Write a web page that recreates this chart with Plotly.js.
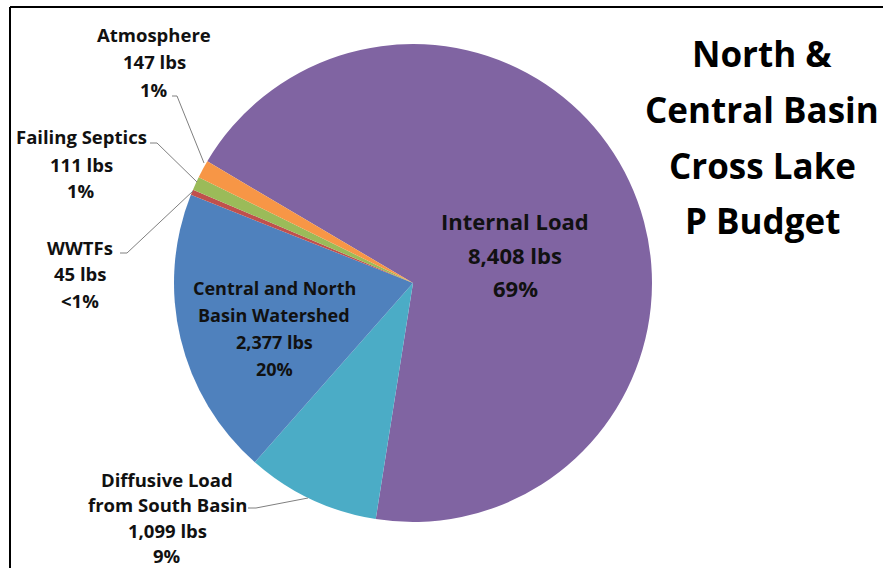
<!DOCTYPE html>
<html><head><meta charset="utf-8">
<script src="https://cdn.plot.ly/plotly-3.0.1.min.js"></script>
<style>html,body{margin:0;padding:0;background:#fff}#c{width:883px;height:568px}</style>
</head><body><div id="c"></div>
<script>
const categories = ["Internal Load","Diffusive Load from South Basin","Central and North Basin Watershed","WWTFs","Failing Septics","Atmosphere"];
const loads = [8408, 1099, 2377, 45, 111, 147];
const pctLabels = ["69%","9%","20%","<1%","1%","1%"];
const colors = ["#8064A2","#4BACC6","#4F81BD","#C0504D","#9BBB59","#F79646"];
const labelLines = [["Internal Load"],["Diffusive Load","from South Basin"],["Central and North","Basin Watershed"],["WWTFs"],["Failing Septics"],["Atmosphere"]];
const titleLines = ["North &","Central Basin","Cross Lake","P Budget"];

const W=883,H=568;
const px=x=>x/W, py=y=>1-y/H;
function fmt(n){return n.toLocaleString('en-US')+' lbs';}
function labLines(i){return labelLines[i].concat([fmt(loads[i]), pctLabels[i]]);}

const F = "'Open Sans', sans-serif";
const cx=413, cy=283, R=239;

const anns=[];
function block(lines, x, y0, step, size, color){
  lines.forEach((t,k)=>anns.push({text:'<b>'+t+'</b>', x:px(x), y:py(y0+k*step), xref:'paper', yref:'paper', showarrow:false,
    xanchor:'center', yanchor:'middle', font:{family:F, size:size, color:color||'#111'}}));
}
block(labLines(0), 515, 221, 33.5, 22);
block(labLines(2), 274, 288, 27, 18);
block(labLines(5), 154, 35, 27, 18.5);
block(labLines(4), 81, 137, 27, 18.5);
block(labLines(3), 80, 247, 26.5, 18.5);
block(labLines(1), 167, 479, 25.5, 18.5);
block(titleLines, 762, 54, 55.5, 35, '#000');

const L=(x0,y0,x1,y1,c,w)=>({type:'line',xref:'paper',yref:'paper',x0:px(x0),y0:py(y0),x1:px(x1),y1:py(y1),line:{color:c||'#808080',width:w||1}});
const shapes=[
 L(10,7,883,7,'#000',2), L(10,7,10,568,'#000',2),
 L(172,96,177,96), L(177,96,204,163),
 L(150,143,157,143), L(157,143,197,182),
 L(120,253,127,253), L(127,253,193,191),
 L(248,508,256,508), L(256,508,308,498)
];

const trace = {type:'pie', labels:categories, values:loads, sort:false, direction:'clockwise', rotation:300.6,
  marker:{colors:colors, line:{width:0}}, textinfo:'none', hoverinfo:'label+value+percent',
  domain:{x:[px(cx-R), px(cx+R)], y:[py(cy+R), py(cy-R)]}, showlegend:false};

Plotly.newPlot('c',[trace],{width:W,height:H,margin:{l:0,r:0,t:0,b:0},paper_bgcolor:'#fff',
  annotations:anns, shapes:shapes, showlegend:false},{staticPlot:true});
</script></body></html>
